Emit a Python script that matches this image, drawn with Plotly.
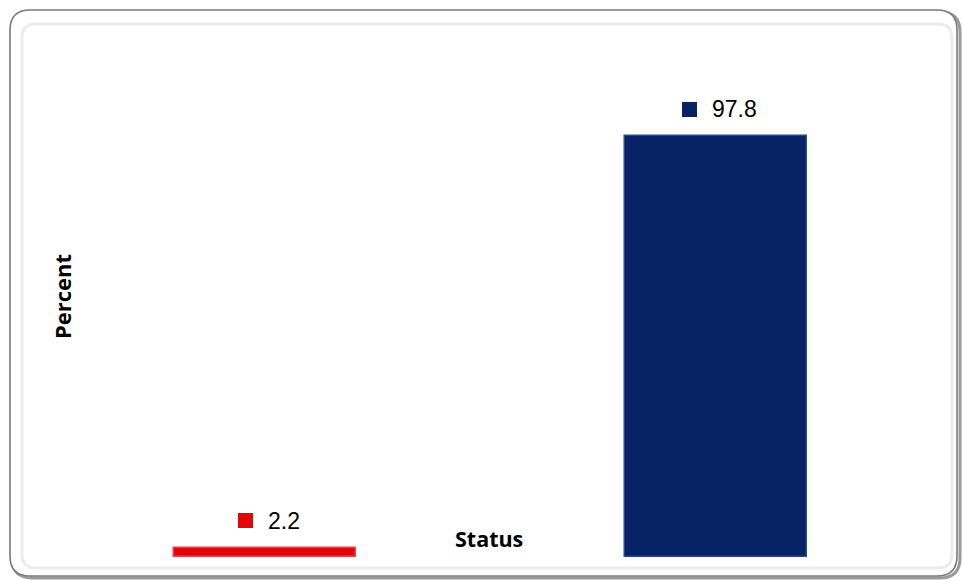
import plotly.graph_objects as go

categories = ["A", "B"]
values = [2.2, 97.8]
colors = ["#e4040c", "#062366"]
edge_colors = ["#f04048", "#24488f"]
y_title = "Percent"
x_title = "Status"

W, H = 963, 580
L, R, T, B = 40, 22, 127, 23
pw, ph = W - L - R, H - T - B

def px(x):
    return (x - L) / pw

def py(y):
    return (H - B - y) / ph

fig = go.Figure()
fig.add_trace(go.Bar(
    x=list(range(len(categories))), y=values,
    marker=dict(color=colors, line=dict(color=edge_colors, width=1.5)),
    width=0.404, hoverinfo="skip",
))

LABEL_SIZE = 23
SQ = 15
GAP = 14

def text_width(s, size):
    w = 0.0
    for ch in s:
        w += 0.278 if ch == "." else 0.556
    return w * size

annotations = []
for i, (v, c) in enumerate(zip(values, colors)):
    label = f"{v:.1f}"
    tw = text_width(label, LABEL_SIZE)
    group = SQ + GAP + tw
    left = 3 - group / 2
    annotations.append(dict(
        x=i, y=v, xref="x", yref="y", xanchor="left", yanchor="middle",
        xshift=left, yshift=27, showarrow=False, text=" ",
        width=SQ, height=SQ, bgcolor=c, borderpad=0, borderwidth=0,
        font=dict(size=2),
    ))
    annotations.append(dict(
        x=i, y=v, xref="x", yref="y", xanchor="left", yanchor="middle",
        xshift=left + SQ + GAP - 1, yshift=27, showarrow=False,
        text=label,
        font=dict(family="Liberation Sans, Arial", size=LABEL_SIZE, color="#000000"),
    ))
annotations.append(dict(
    x=px(489), y=py(538), xref="paper", yref="paper", showarrow=False,
    xanchor="center", yanchor="middle",
    text=f"<b>{x_title}</b>",
    font=dict(family="Open Sans, DejaVu Sans", size=21.5, color="#000000"),
))
annotations.append(dict(
    x=px(61.5), y=py(296.5), xref="paper", yref="paper", showarrow=False,
    xanchor="center", yanchor="middle",
    text=f"<b>{y_title}</b>", textangle=-90,
    font=dict(family="Open Sans, DejaVu Sans", size=22, color="#000000"),
))

def rounded(x0, y0, x1, y1, r):
    def P(x, y):
        return f"{px(x):.5f},{py(y):.5f}"
    return (f"M {P(x0 + r, y0)} L {P(x1 - r, y0)} Q {P(x1, y0)} {P(x1, y0 + r)} "
            f"L {P(x1, y1 - r)} Q {P(x1, y1)} {P(x1 - r, y1)} "
            f"L {P(x0 + r, y1)} Q {P(x0, y1)} {P(x0, y1 - r)} "
            f"L {P(x0, y0 + r)} Q {P(x0, y0)} {P(x0 + r, y0)} Z")

shapes = [
    dict(type="path", xref="paper", yref="paper", path=rounded(12, 12, 960, 578, 20),
         line=dict(color="#9a9a9a", width=3), layer="below"),
    dict(type="path", xref="paper", yref="paper", path=rounded(10, 10, 957, 576, 20),
         line=dict(color="#7a7a7a", width=1.6), fillcolor="#ffffff", layer="below"),
    dict(type="path", xref="paper", yref="paper", path=rounded(22, 24, 952, 568, 14),
         line=dict(color="#ececec", width=3), layer="below"),
]

fig.update_layout(
    width=W, height=H,
    margin=dict(l=L, r=R, t=T, b=B),
    paper_bgcolor="#ffffff", plot_bgcolor="rgba(0,0,0,0)",
    showlegend=False,
    xaxis=dict(range=[-0.5, 1.5], visible=False, fixedrange=True),
    yaxis=dict(range=[0, 100], visible=False, fixedrange=True),
    annotations=annotations, shapes=shapes,
    bargap=0,
)

fig.write_html("out.html", config={"displayModeBar": False})
